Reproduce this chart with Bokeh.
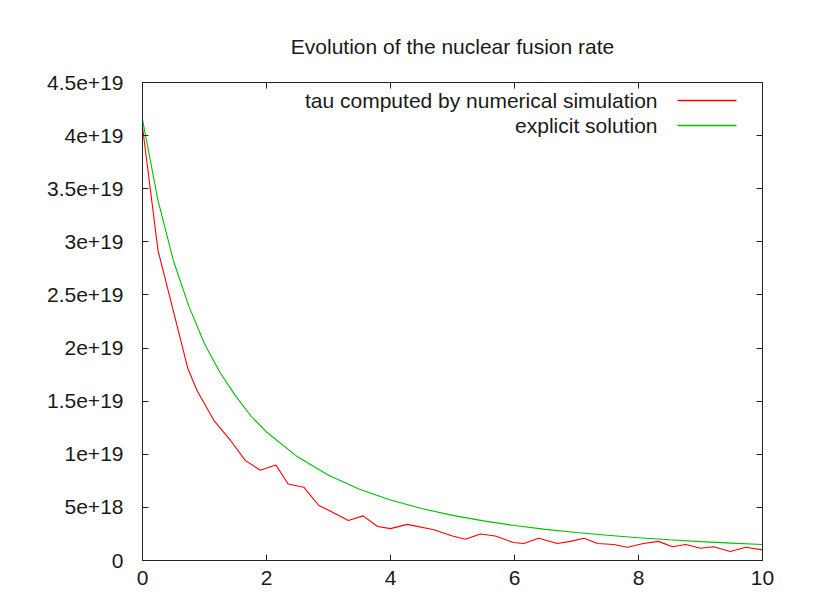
from bokeh.plotting import figure
from bokeh.models import (Range1d, FixedTicker, LinearAxis, CustomJSTickFormatter,
                          Label, BoxAnnotation)
from bokeh.embed import file_html
from bokeh.resources import INLINE

title_text = "Evolution of the nuclear fusion rate"
sim_label = "tau computed by numerical simulation"
exact_label = "explicit solution"

x_ticks = [0, 2, 4, 6, 8, 10]
y_ticks = [0, 5e18, 1e19, 1.5e19, 2e19, 2.5e19, 3e19, 3.5e19, 4e19, 4.5e19]

# numerical simulation (red)
t_sim = [0, 0.25, 0.73, 0.88, 1.15, 1.42, 1.66, 1.90, 2.15, 2.35, 2.6, 2.84, 3.08,
         3.32, 3.56, 3.79, 4.0, 4.27, 4.7, 5.0, 5.21, 5.45, 5.69, 5.98, 6.15, 6.39,
         6.69, 6.9, 7.12, 7.34, 7.6, 7.82, 8.08, 8.32, 8.55, 8.76, 9.0, 9.21, 9.48,
         9.73, 10.0]
tau_sim = [4.08e19, 2.92e19, 1.81e19, 1.60e19, 1.32e19, 1.13e19, 0.94e19, 0.85e19,
           0.90e19, 0.72e19, 0.69e19, 0.52e19, 0.45e19, 0.377e19, 0.42e19, 0.32e19,
           0.30e19, 0.34e19, 0.29e19, 0.23e19, 0.20e19, 0.25e19, 0.23e19, 0.17e19,
           0.16e19, 0.21e19, 0.16e19, 0.18e19, 0.21e19, 0.16e19, 0.15e19, 0.125e19,
           0.16e19, 0.18e19, 0.13e19, 0.15e19, 0.115e19, 0.13e19, 0.085e19, 0.125e19,
           0.10e19]

# explicit solution (green)
t_exact = [0, 0.25, 0.5, 0.75, 1.0, 1.25, 1.5, 1.75, 2.0, 2.5, 3.0, 3.5, 4.0, 4.5,
           5.0, 5.5, 6.0, 6.5, 7.0, 7.5, 8.0, 8.5, 9.0, 9.5, 10.0]
tau_exact = [4.15e19, 3.39e19, 2.82e19, 2.39e19, 2.04e19, 1.77e19, 1.55e19, 1.36e19,
             1.21e19, 0.976e19, 0.802e19, 0.671e19, 0.569e19, 0.489e19, 0.425e19,
             0.373e19, 0.329e19, 0.293e19, 0.263e19, 0.237e19, 0.214e19, 0.195e19,
             0.178e19, 0.164e19, 0.151e19]

FONT = "Liberation Sans"
FS = "21px"
TXT = "#1a1a1a"
RED = "#ff0000"
GREEN = "#00c000"

p = figure(width=808, height=598, output_backend="svg", toolbar_location=None,
           x_range=Range1d(0, 10), y_range=Range1d(0, 4.5e19),
           x_axis_location=None, y_axis_location=None,
           min_border_left=142, min_border_right=46, min_border_top=82,
           min_border_bottom=38)
p.grid.visible = False
p.outline_line_color = None
p.background_fill_color = "white"
p.border_fill_color = "white"

p.title.text = title_text
p.title.align = "center"
p.title.text_font = FONT
p.title.text_font_size = FS
p.title.text_font_style = "normal"
p.title.text_color = TXT
p.title.standoff = 49

fmt = CustomJSTickFormatter(code="return tick == 0 ? '0' : Number(tick).toExponential();")
blank = CustomJSTickFormatter(code="return '';")

def style(ax, show_labels):
    ax.axis_line_color = "#222222"
    ax.axis_line_width = 1
    ax.major_tick_line_color = "#222222"
    ax.major_tick_in = 6
    ax.major_tick_out = 0
    ax.minor_tick_in = 0
    ax.minor_tick_out = 0
    ax.major_label_text_font = FONT
    ax.major_label_text_font_size = FS
    ax.major_label_text_color = TXT
    if not show_labels:
        ax.formatter = blank
        ax.major_label_standoff = 0

xb = LinearAxis(ticker=FixedTicker(ticks=x_ticks))
style(xb, True)
xb.major_label_standoff = 10
p.add_layout(xb, "below")

xt = LinearAxis(ticker=FixedTicker(ticks=x_ticks))
style(xt, False)
p.add_layout(xt, "above")

yl = LinearAxis(ticker=FixedTicker(ticks=y_ticks), formatter=fmt)
style(yl, True)
yl.major_label_standoff = 19
p.add_layout(yl, "left")

yr = LinearAxis(ticker=FixedTicker(ticks=y_ticks))
style(yr, False)
p.add_layout(yr, "right")

p.line(t_sim, tau_sim, line_color=RED, line_width=1.1)
p.line(t_exact, tau_exact, line_color=GREEN, line_width=1.1)

# gnuplot-style key: text right-aligned, sample line to its right
for i, (lab, col) in enumerate([(sim_label, RED), (exact_label, GREEN)]):
    yc = 460 - 25 * i
    p.add_layout(Label(x=515, y=yc, x_units="screen", y_units="screen", text=lab,
                       text_align="right", text_baseline="middle",
                       text_font=FONT, text_font_size=FS, text_color=TXT))
    p.add_layout(BoxAnnotation(left=535, right=594, bottom=yc - 0.7, top=yc + 0.7,
                               left_units="screen", right_units="screen",
                               bottom_units="screen", top_units="screen",
                               fill_color=col, fill_alpha=1, line_color=None))

open("out.html", "w").write(file_html(p, INLINE))
